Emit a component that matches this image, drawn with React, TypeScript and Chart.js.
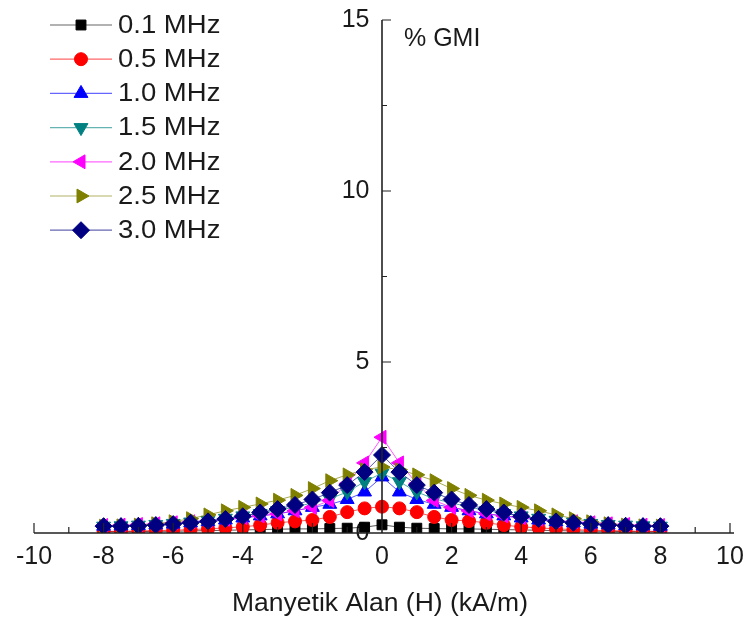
import React, { useEffect, useRef } from 'react';
import { Chart, registerables } from 'chart.js';

Chart.register(...registerables);

// Magnetic field H (kA/m)
const H = [-8, -7.5, -7, -6.5, -6, -5.5, -5, -4.5, -4, -3.5, -3, -2.5, -2, -1.5, -1, -0.5, 0, 0.5, 1, 1.5, 2, 2.5, 3, 3.5, 4, 4.5, 5, 5.5, 6, 6.5, 7, 7.5, 8];

// % GMI per frequency
const gmi01 = [0.04, 0.04, 0.04, 0.05, 0.05, 0.06, 0.07, 0.08, 0.09, 0.1, 0.11, 0.12, 0.12, 0.13, 0.14, 0.17, 0.24, 0.17, 0.14, 0.13, 0.12, 0.12, 0.11, 0.1, 0.09, 0.08, 0.07, 0.06, 0.05, 0.05, 0.04, 0.04, 0.04];
const gmi05 = [0.05, 0.05, 0.06, 0.07, 0.08, 0.1, 0.12, 0.15, 0.18, 0.23, 0.3, 0.34, 0.38, 0.47, 0.61, 0.72, 0.77, 0.72, 0.61, 0.47, 0.38, 0.35, 0.3, 0.23, 0.18, 0.15, 0.12, 0.1, 0.08, 0.07, 0.06, 0.05, 0.05];
const gmi10 = [0.2, 0.21, 0.22, 0.24, 0.26, 0.3, 0.33, 0.38, 0.44, 0.5, 0.56, 0.65, 0.75, 0.84, 0.98, 1.2, 1.64, 1.2, 0.98, 0.84, 0.75, 0.65, 0.56, 0.5, 0.44, 0.38, 0.33, 0.3, 0.26, 0.24, 0.22, 0.21, 0.2];
const gmi15 = [0.2, 0.21, 0.23, 0.25, 0.28, 0.32, 0.37, 0.43, 0.5, 0.57, 0.66, 0.76, 0.88, 1.0, 1.2, 1.5, 1.75, 1.5, 1.2, 1.0, 0.88, 0.76, 0.66, 0.57, 0.5, 0.43, 0.37, 0.32, 0.28, 0.25, 0.23, 0.21, 0.2];
const gmi20 = [0.22, 0.23, 0.25, 0.27, 0.3, 0.33, 0.36, 0.4, 0.45, 0.5, 0.56, 0.65, 0.75, 0.95, 1.45, 2.05, 2.8, 2.05, 1.45, 0.95, 0.75, 0.65, 0.56, 0.5, 0.45, 0.4, 0.36, 0.33, 0.3, 0.27, 0.25, 0.23, 0.22];
const gmi25 = [0.2, 0.21, 0.23, 0.27, 0.33, 0.42, 0.53, 0.65, 0.75, 0.85, 0.96, 1.1, 1.3, 1.53, 1.7, 1.85, 1.93, 1.85, 1.7, 1.53, 1.3, 1.1, 0.96, 0.85, 0.75, 0.65, 0.53, 0.42, 0.33, 0.27, 0.23, 0.21, 0.2];
const gmi30 = [0.2, 0.2, 0.21, 0.23, 0.26, 0.3, 0.34, 0.41, 0.49, 0.6, 0.7, 0.82, 0.98, 1.18, 1.4, 1.78, 2.28, 1.78, 1.4, 1.18, 0.98, 0.82, 0.7, 0.6, 0.49, 0.41, 0.34, 0.3, 0.26, 0.23, 0.21, 0.2, 0.2];

const seriesLabels = ['0.1 MHz', '0.5 MHz', '1.0 MHz', '1.5 MHz', '2.0 MHz', '2.5 MHz', '3.0 MHz'];
const seriesValues = [gmi01, gmi05, gmi10, gmi15, gmi20, gmi25, gmi30];
const seriesColors = ['#000000', '#ff0000', '#0000ff', '#008080', '#ff00ff', '#808000', '#000080'];
const seriesStyles = ['rect', 'circle', 'triangle', 'triangle', 'triangle', 'triangle', 'rectRot'];
const seriesRotations = [0, 0, 0, 180, -90, 90, 0];
const seriesRadii = [7, 6.5, 8, 8, 8, 8, 8.5];

const xTicksMin = -10;
const xTicksMax = 10;
const yTicksMin = 0;
const yTicksMax = 15;

const FONT = "'Liberation Sans', Arial, sans-serif";
const TEXT = '#1a1a1a';

function drawMarker(ctx: CanvasRenderingContext2D, style: string, rotDeg: number, x: number, y: number, r: number, color: string) {
  ctx.save();
  ctx.fillStyle = color;
  ctx.strokeStyle = color;
  ctx.lineWidth = 1;
  ctx.beginPath();
  let rad = (rotDeg * Math.PI) / 180;
  if (style === 'circle') {
    ctx.arc(x, y, r, 0, Math.PI * 2);
  } else if (style === 'rect') {
    const s = Math.SQRT1_2 * r;
    ctx.rect(x - s, y - s, 2 * s, 2 * s);
  } else if (style === 'rectRot') {
    ctx.moveTo(x, y - r);
    ctx.lineTo(x + r, y);
    ctx.lineTo(x, y + r);
    ctx.lineTo(x - r, y);
    ctx.closePath();
  } else {
    const t = (2 * Math.PI) / 3;
    ctx.moveTo(x + Math.sin(rad) * r, y - Math.cos(rad) * r);
    rad += t;
    ctx.lineTo(x + Math.sin(rad) * r, y - Math.cos(rad) * r);
    rad += t;
    ctx.lineTo(x + Math.sin(rad) * r, y - Math.cos(rad) * r);
    ctx.closePath();
  }
  ctx.fill();
  ctx.stroke();
  ctx.restore();
}

function stretchedText(ctx: CanvasRenderingContext2D, text: string, x: number, y: number, sx: number, align: 'left' | 'center') {
  ctx.save();
  ctx.translate(x, y);
  ctx.scale(sx, 1);
  ctx.textAlign = align;
  ctx.fillText(text, 0, 0);
  ctx.restore();
}

const axesPlugin = {
  id: 'axesPlugin',
  afterDatasetsDraw(chart: any) {
    const { ctx } = chart;
    const xs = chart.scales.x;
    const ys = chart.scales.y;
    const x0 = xs.getPixelForValue(0);
    const y0 = ys.getPixelForValue(0);
    ctx.save();
    ctx.strokeStyle = '#222';
    ctx.lineWidth = 1.6;
    ctx.beginPath();
    ctx.moveTo(xs.getPixelForValue(xTicksMin), y0);
    ctx.lineTo(xs.getPixelForValue(xTicksMax) + 4, y0);
    ctx.moveTo(x0, y0);
    ctx.lineTo(x0, ys.getPixelForValue(yTicksMax));
    ctx.stroke();
    ctx.lineWidth = 1.2;
    ctx.beginPath();
    for (let v = xTicksMin; v <= xTicksMax; v += 1) {
      if (v === 0) continue;
      const len = v % 2 === 0 ? 10 : 6;
      const px = xs.getPixelForValue(v);
      ctx.moveTo(px, y0);
      ctx.lineTo(px, y0 - len);
    }
    for (let v = 2.5; v <= yTicksMax; v += 2.5) {
      const len = v % 5 === 0 ? 9 : 5;
      const py = ys.getPixelForValue(v);
      ctx.moveTo(x0, py);
      ctx.lineTo(x0 + len, py);
    }
    ctx.stroke();
    ctx.restore();
  },
  afterDraw(chart: any) {
    const { ctx } = chart;
    ctx.save();
    ctx.font = `25px ${FONT}`;
    ctx.fillStyle = TEXT;
    ctx.textBaseline = 'middle';
    stretchedText(ctx, '% GMI', 404, 39, 1.0, 'left');
    stretchedText(ctx, 'Manyetik Alan (H) (kA/m)', 380, 604, 1.06, 'center');
    // legend
    for (let i = 0; i < seriesLabels.length; i++) {
      const y = 25 + i * 34.2;
      ctx.save();
      ctx.strokeStyle = seriesColors[i];
      ctx.globalAlpha = 0.6;
      ctx.lineWidth = 1.2;
      ctx.beginPath();
      ctx.moveTo(50, y);
      ctx.lineTo(112, y);
      ctx.stroke();
      ctx.restore();
      drawMarker(ctx, seriesStyles[i], seriesRotations[i], 81, y, seriesRadii[i], seriesColors[i]);
      ctx.fillStyle = TEXT;
      stretchedText(ctx, seriesLabels[i], 118, y + 1, 1.1, 'left');
    }
    ctx.restore();
  },
};

export default function App() {
  const ref = useRef<HTMLCanvasElement | null>(null);
  useEffect(() => {
    if (!ref.current) return;
    const datasets = seriesLabels.map((label, i) => ({
      label,
      data: H.map((h, k) => ({ x: h, y: seriesValues[i][k] })),
      borderColor: seriesColors[i] + 'aa',
      backgroundColor: seriesColors[i],
      borderWidth: 1,
      pointStyle: seriesStyles[i],
      pointRotation: seriesRotations[i],
      pointRadius: seriesRadii[i],
      pointBackgroundColor: seriesColors[i],
      pointBorderColor: seriesColors[i],
      pointBorderWidth: 1,
      order: seriesLabels.length - i,
      tension: 0,
    }));
    const chart = new Chart(ref.current, {
      type: 'line',
      data: { datasets },
      plugins: [axesPlugin],
      options: {
        responsive: false,
        animation: false,
        layout: { padding: { left: 34, right: 17, top: 20, bottom: 89 } },
        plugins: { legend: { display: false }, tooltip: { enabled: false } },
        scales: {
          x: {
            type: 'linear',
            position: { y: 0 },
            min: xTicksMin,
            max: xTicksMax,
            grid: { display: false, drawTicks: false },
            border: { display: false },
            ticks: {
              stepSize: 2,
              maxRotation: 0,
              autoSkip: false,
              padding: 9,
              color: TEXT,
              font: { family: FONT, size: 25 },
            },
            afterFit: (s: any) => { s.height = 0; s.paddingLeft = 0; s.paddingRight = 0; },
          },
          y: {
            type: 'linear',
            position: { x: 0 },
            min: yTicksMin,
            max: yTicksMax,
            grid: { display: false, drawTicks: false },
            border: { display: false },
            ticks: {
              stepSize: 5,
              color: TEXT,
              font: { family: FONT, size: 25 },
              callback: (v: any) => `${v}\u2002`,
            },
            afterFit: (s: any) => { s.width = 0; s.paddingTop = 0; s.paddingBottom = 0; },
          },
        },
      },
    } as any);
    return () => chart.destroy();
  }, []);
  return (
    <div style={{ position: 'fixed', left: 0, top: 0, width: 747, height: 622, background: '#fff' }}>
      <canvas ref={ref} width={747} height={622} />
    </div>
  );
}
